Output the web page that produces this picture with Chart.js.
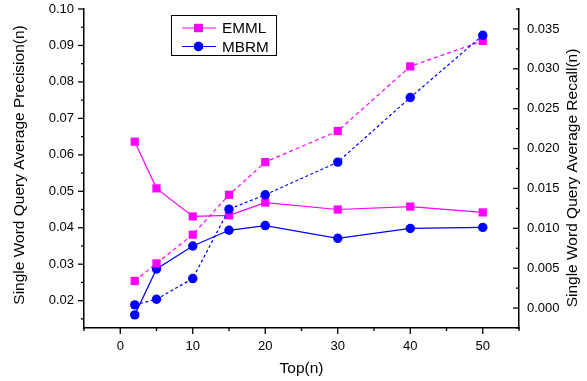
<!DOCTYPE html>
<html lang="en">
<head>
  <meta charset="UTF-8" />
  <title>Top(n) precision / recall</title>
  <script src="https://cdn.jsdelivr.net/npm/chart.js"></script>
  <style>
    body { margin: 0; background: #fff; }
    #box { width: 587px; height: 381px; position: relative; }
  </style>
</head>
<body>
  <div id="box"><canvas id="grafico"></canvas></div>

  <script>
    // values
    const topN = [2, 5, 10, 15, 20, 30, 40, 50];
    const emmlPrecision = [0.0636, 0.0508, 0.0431, 0.0434, 0.0469, 0.0450, 0.0458, 0.0442];
    const mbrmPrecision = [0.0161, 0.0287, 0.0350, 0.0393, 0.0406, 0.0371, 0.0398, 0.0401];
    const emmlRecall = [0.0034, 0.0056, 0.0092, 0.0142, 0.0183, 0.0222, 0.0303, 0.0335];
    const mbrmRecall = [0.0004, 0.0011, 0.0037, 0.0124, 0.0142, 0.0183, 0.0264, 0.0342];

    const xTicks = [0, 10, 20, 30, 40, 50];
    const xMinor = [-5, 5, 15, 25, 35, 45, 55];
    const precisionTicks = [0.02, 0.03, 0.04, 0.05, 0.06, 0.07, 0.08, 0.09, 0.10];
    const precisionMinor = [0.015, 0.025, 0.035, 0.045, 0.055, 0.065, 0.075, 0.085, 0.095];
    const recallTicks = [0.000, 0.005, 0.010, 0.015, 0.020, 0.025, 0.030, 0.035];
    const recallMinor = [-0.0025, 0.0025, 0.0075, 0.0125, 0.0175, 0.0225, 0.0275, 0.0325, 0.0375];

    const FONT = 'Arial, "Liberation Sans", sans-serif';
    const MAGENTA = '#ff00ff';
    const BLUE = '#0000ff';

    const pts = ys => topN.map((x, i) => ({ x, y: ys[i] }));

    // fixed axis sizes so the plot box sits where the reference has it
    const fitTo = (w, h) => s => {
      if (w) s.width = w;
      if (h) s.height = h;
      s.paddingTop = 0; s.paddingBottom = 0; s.paddingLeft = 0; s.paddingRight = 0;
    };

    // tick marks, axis titles and legend
    const decor = {
      id: 'decor',
      afterDraw(chart) {
        const { ctx, chartArea: a, scales } = chart;
        ctx.save();
        ctx.strokeStyle = '#000';
        ctx.lineWidth = 1.3;
        const tick = (x1, y1, x2, y2) => { ctx.beginPath(); ctx.moveTo(x1, y1); ctx.lineTo(x2, y2); ctx.stroke(); };

        xTicks.forEach(v => { const p = scales.x.getPixelForValue(v); tick(p, a.bottom, p, a.bottom + 6); });
        xMinor.forEach(v => { const p = scales.x.getPixelForValue(v); tick(p, a.bottom, p, a.bottom + 3); });
        precisionTicks.forEach(v => { const p = scales.y.getPixelForValue(v); tick(a.left - 6, p, a.left, p); });
        precisionMinor.forEach(v => { const p = scales.y.getPixelForValue(v); tick(a.left - 3, p, a.left, p); });
        recallTicks.forEach(v => { const p = scales.y1.getPixelForValue(v); tick(a.right - 6, p, a.right, p); });
        recallMinor.forEach(v => { const p = scales.y1.getPixelForValue(v); tick(a.right - 3, p, a.right, p); });

        // axis titles
        ctx.fillStyle = '#000';
        ctx.font = '15.5px ' + FONT;
        ctx.textAlign = 'center';
        ctx.textBaseline = 'middle';
        ctx.fillText('Top(n)', (a.left + a.right) / 2, 369);
        ctx.save();
        ctx.translate(20, 165);
        ctx.rotate(-Math.PI / 2);
        ctx.fillText('Single Word Query Average Precision(n)', 0, 0);
        ctx.restore();
        ctx.save();
        ctx.translate(573, 178);
        ctx.rotate(-Math.PI / 2);
        ctx.fillText('Single Word Query Average Recall(n)', 0, 0);
        ctx.restore();

        // legend
        ctx.lineWidth = 1;
        ctx.strokeRect(171.5, 15.5, 105, 40);
        const entries = [['EMML', MAGENTA, 'rect', 5.8, 28], ['MBRM', BLUE, 'circle', 4.7, 46.5]];
        entries.forEach(([label, color, style, r, y]) => {
          ctx.strokeStyle = color;
          ctx.lineWidth = 1.2;
          tick(182, y, 216, y);
          Chart.helpers.drawPoint(ctx, { pointStyle: style, radius: r, borderWidth: 0 }, 198.5, y);
          ctx.fillStyle = color;
          ctx.fill();
          ctx.fillStyle = '#000';
          ctx.font = '15.3px ' + FONT;
          ctx.textAlign = 'left';
          ctx.fillText(label, 222, y + 1);
        });
        ctx.restore();
      }
    };

    const serie = (label, data, color, style, r, axis, dash, order) => ({
      label, data, yAxisID: axis, order,
      borderColor: color, backgroundColor: color,
      borderWidth: 1.2, borderDash: dash,
      pointStyle: style, pointRadius: r, pointHoverRadius: r,
      pointBorderWidth: 0, pointBackgroundColor: color,
      tension: 0, fill: false
    });

    new Chart(document.getElementById('grafico'), {
      type: 'line',
      data: {
        datasets: [
          serie('EMML', pts(emmlPrecision), MAGENTA, 'rect', 5.8, 'y', [], 4),
          serie('MBRM', pts(mbrmPrecision), BLUE, 'circle', 4.7, 'y', [], 3),
          serie('EMML recall', pts(emmlRecall), MAGENTA, 'rect', 5.8, 'y1', [4, 3], 2),
          serie('MBRM recall', pts(mbrmRecall), BLUE, 'circle', 4.7, 'y1', [3, 2.5], 1)
        ]
      },
      options: {
        responsive: true,
        maintainAspectRatio: false,
        animation: false,
        events: [],
        layout: { padding: { top: 9, left: 0, right: 0, bottom: 0 } },
        plugins: { legend: { display: false }, tooltip: { enabled: false } },
        scales: {
          x: {
            type: 'linear', min: -5, max: 55,
            afterBuildTicks: s => { s.ticks = xTicks.map(value => ({ value })); },
            afterFit: fitTo(0, 53),
            grid: { display: true, drawOnChartArea: false, drawTicks: false },
            border: { display: true, color: '#000', width: 1.5 },
            ticks: { color: '#000', font: { family: FONT, size: 13 }, padding: 11, maxRotation: 0 }
          },
          y: {
            position: 'left', min: 0.0125, max: 0.10,
            afterBuildTicks: s => { s.ticks = precisionTicks.map(value => ({ value })); },
            afterFit: fitTo(84, 0),
            grid: { display: true, drawOnChartArea: false, drawTicks: false },
            border: { display: true, color: '#000', width: 1.5 },
            ticks: { color: '#000', font: { family: FONT, size: 13 }, padding: 10, callback: v => v.toFixed(2) }
          },
          y1: {
            position: 'right', min: -0.0025, max: 0.0375,
            afterBuildTicks: s => { s.ticks = recallTicks.map(value => ({ value })); },
            afterFit: fitTo(68, 0),
            grid: { display: true, drawOnChartArea: false, drawTicks: false },
            border: { display: true, color: '#000', width: 1.5 },
            ticks: { color: '#000', font: { family: FONT, size: 13 }, padding: 8, callback: v => v.toFixed(3) }
          }
        }
      },
      plugins: [decor]
    });
  </script>
</body>
</html>
